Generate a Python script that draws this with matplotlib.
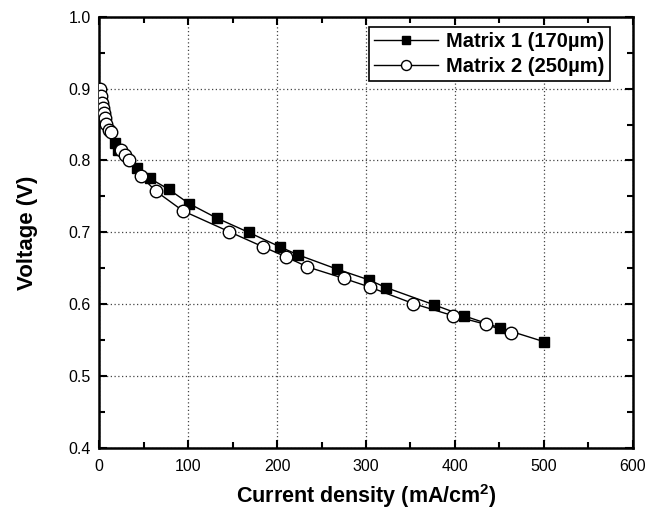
import matplotlib
matplotlib.use("Agg")
import matplotlib.pyplot as plt
from matplotlib.ticker import MultipleLocator

plt.rcParams['font.family'] = ['Liberation Sans', 'DejaVu Sans']

# polarization data, current density in mA/cm2 and cell voltage in V
m1_current = [1, 2, 3, 4, 18, 21, 42, 57, 78, 101, 132, 168, 203, 223,
              267, 303, 323, 377, 410, 451, 500]
m1_voltage = [0.890, 0.885, 0.878, 0.870, 0.824, 0.815, 0.789, 0.775, 0.760,
              0.740, 0.720, 0.700, 0.680, 0.669, 0.649, 0.634, 0.623, 0.599,
              0.584, 0.567, 0.548]

m2_current = [1, 2, 3, 4, 5, 6, 8, 11, 13, 25, 29, 34, 47, 64, 94, 146,
              184, 210, 234, 275, 304, 353, 398, 435, 463]
m2_voltage = [0.899, 0.890, 0.880, 0.873, 0.866, 0.859, 0.851, 0.843, 0.839,
              0.814, 0.808, 0.800, 0.778, 0.757, 0.730, 0.701, 0.680, 0.666,
              0.652, 0.636, 0.624, 0.601, 0.584, 0.572, 0.560]

labels = ["Matrix 1 (170\u00b5m)", "Matrix 2 (250\u00b5m)"]

fig = plt.figure(figsize=(6.57, 5.13), dpi=100)
ax = fig.add_axes([0.1511, 0.1267, 0.8119, 0.8407])

ax.plot(m1_current, m1_voltage, color='black', lw=1.0, marker='s',
        ms=7, mfc='black', mec='black', label=labels[0], zorder=3)
ax.plot(m2_current, m2_voltage, color='black', lw=1.0, marker='o',
        ms=9, mfc='white', mec='black', mew=1.0, label=labels[1], zorder=4)

ax.set_xlim(0, 600)
ax.set_ylim(0.4, 1.0)
ax.xaxis.set_major_locator(MultipleLocator(100))
ax.xaxis.set_minor_locator(MultipleLocator(50))
ax.yaxis.set_major_locator(MultipleLocator(0.1))
ax.yaxis.set_minor_locator(MultipleLocator(0.05))
ax.tick_params(which='both', direction='in', top=True, right=True,
               width=1.5, labelsize=11.5)
ax.tick_params(which='major', length=6, pad=6)
ax.tick_params(which='minor', length=4)
ax.tick_params(axis='x', pad=8)

for s in ax.spines.values():
    s.set_linewidth(1.8)

ax.grid(True, which='major', linestyle=(0, (1, 2)), color='#444444', lw=0.9)

ax.set_xlabel("Current density (mA/cm$^\\mathregular{2}$)", fontsize=15.5,
              fontweight='bold', labelpad=6)
ax.set_ylabel("Voltage (V)", fontsize=16, fontweight='bold', labelpad=22)

leg = ax.legend(loc='upper right', bbox_to_anchor=(0.957, 0.976),
                prop={'weight': 'bold', 'size': 14.5}, fancybox=False,
                framealpha=1, edgecolor='black', borderpad=0.25,
                handlelength=3.2, handletextpad=0.4, labelspacing=0.3,
                borderaxespad=0.0, markerscale=0.8)
leg.get_frame().set_linewidth(1.2)

fig.savefig("out.png", dpi=100)
